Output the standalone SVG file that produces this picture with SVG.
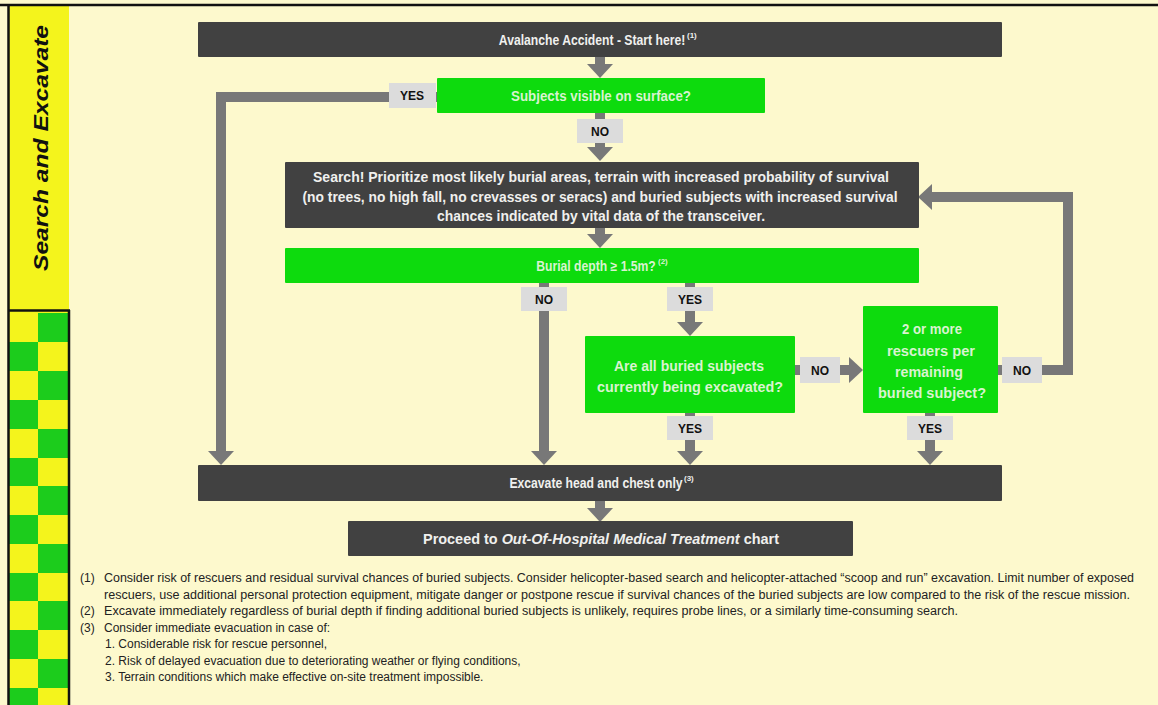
<svg xmlns="http://www.w3.org/2000/svg" width="1158" height="705" viewBox="0 0 1158 705">
<style>
.dark{fill:#414141}
.green{fill:#0ddb0d}
.lbl{fill:#dcdcdc}
.wt{font-family:"Liberation Sans Narrow","Liberation Sans",Arial,sans-serif;font-weight:bold;font-size:14px;fill:#f0f0ee;text-anchor:middle}
.gt{font-family:"Liberation Sans Narrow","Liberation Sans",Arial,sans-serif;font-weight:bold;font-size:14px;fill:#d9f3d0;text-anchor:middle}
.lt{font-family:"Liberation Sans",Arial,sans-serif;font-weight:bold;font-size:12px;fill:#111;text-anchor:middle}
.fn{font-family:"Liberation Sans Narrow","Liberation Sans",Arial,sans-serif;font-size:12px;fill:#222}
.conn{fill:none;stroke:#787878;stroke-width:10;stroke-linejoin:miter}
.sup{font-family:"Liberation Sans",Arial,sans-serif;font-weight:bold;font-size:8px;text-anchor:start}
</style>
<defs>
<marker id="ah" markerUnits="userSpaceOnUse" markerWidth="14" markerHeight="26" viewBox="0 -13 14 26" refX="0" refY="0" orient="auto">
<path d="M0,-13 L14,0 L0,13 z" fill="#787878"/>
</marker>
</defs>
<rect x="0" y="0" width="1158" height="705" fill="#fdf9cd"/>
<g id="sidebar">
<rect x="9" y="6" width="60" height="304" fill="#f4f41c"/>
<g id="checker">
<rect x="9" y="311" width="60" height="394" fill="#f4f41c"/>
<g fill="#1ccc1c">
<rect x="38" y="313" width="30" height="29"/>
<rect x="9" y="342" width="29" height="29"/>
<rect x="38" y="371" width="30" height="29"/>
<rect x="9" y="400" width="29" height="29"/>
<rect x="38" y="429" width="30" height="29"/>
<rect x="9" y="458" width="29" height="28"/>
<rect x="38" y="486" width="30" height="29"/>
<rect x="9" y="515" width="29" height="29"/>
<rect x="38" y="544" width="30" height="29"/>
<rect x="9" y="573" width="29" height="28"/>
<rect x="38" y="601" width="30" height="29"/>
<rect x="9" y="630" width="29" height="29"/>
<rect x="38" y="659" width="30" height="29"/>
<rect x="9" y="688" width="29" height="17"/>
</g>
</g>
<path d="M0,5 H1158 M8.5,5 V705 M8,310.5 H70 M69,310 V705" stroke="#111" stroke-width="2.5" fill="none"/>
<text transform="translate(48,148) rotate(-90)" text-anchor="middle" font-family="'Liberation Sans',Arial,sans-serif" font-weight="bold" font-style="italic" font-size="21" fill="#111" textLength="246" lengthAdjust="spacingAndGlyphs">Search and Excavate</text>
</g>
<g id="connectors">
<path class="conn" d="M600,57 V64" marker-end="url(#ah)"/>
<path class="conn" d="M440,97 H221 V451" marker-end="url(#ah)"/>
<path class="conn" d="M600,113 V147" marker-end="url(#ah)"/>
<path class="conn" d="M600,228 V234" marker-end="url(#ah)"/>
<path class="conn" d="M544,283 V451" marker-end="url(#ah)"/>
<path class="conn" d="M690,283 V322" marker-end="url(#ah)"/>
<path class="conn" d="M795,370 H849" marker-end="url(#ah)"/>
<path class="conn" d="M998,370 H1068 V197 H932" marker-end="url(#ah)"/>
<path class="conn" d="M690,412 V451" marker-end="url(#ah)"/>
<path class="conn" d="M930,412 V451" marker-end="url(#ah)"/>
<path class="conn" d="M600,501 V508" marker-end="url(#ah)"/>
</g>
<g id="n-start">
<rect class="dark" x="198" y="22" width="804" height="35" rx="1"/>
<text class="wt" transform="matrix(0.87 0 0 1 592 45)">Avalanche Accident - Start here!</text>
<text class="sup" x="687" y="38" fill="#f0f0ee">(1)</text>
</g>
<g id="n-visible">
<rect class="green" x="437" y="78" width="328" height="35" rx="1"/>
<text class="gt" x="601" y="101" textLength="180" lengthAdjust="spacingAndGlyphs">Subjects visible on surface?</text>
</g>
<g id="n-search">
<rect class="dark" x="285" y="162" width="634" height="66" rx="1"/>
<text class="wt" x="601" y="182" textLength="576" lengthAdjust="spacingAndGlyphs">Search! Prioritize most likely burial areas, terrain with increased probability of survival</text>
<text class="wt" x="600" y="202" textLength="595" lengthAdjust="spacingAndGlyphs">(no trees, no high fall, no crevasses or seracs) and buried subjects with increased survival</text>
<text class="wt" x="601" y="221" textLength="328" lengthAdjust="spacingAndGlyphs">chances indicated by vital data of the transceiver.</text>
</g>
<g id="n-depth">
<rect class="green" x="285" y="248" width="634" height="35" rx="1"/>
<text class="gt" transform="matrix(0.87 0 0 1 596 271)">Burial depth ≥ 1.5m?</text>
<text class="sup" x="658" y="264" fill="#d9f3d0">(2)</text>
</g>
<g id="n-excavating">
<rect class="green" x="585" y="336" width="210" height="77" rx="1"/>
<text class="gt" x="689" y="371" textLength="150" lengthAdjust="spacingAndGlyphs">Are all buried subjects</text>
<text class="gt" x="690" y="392" textLength="186" lengthAdjust="spacingAndGlyphs">currently being excavated?</text>
</g>
<g id="n-rescuers">
<rect class="green" x="863" y="306" width="135" height="107" rx="1"/>
<text class="gt" x="932" y="334" textLength="60" lengthAdjust="spacingAndGlyphs">2 or more</text>
<text class="gt" x="931" y="356" textLength="88" lengthAdjust="spacingAndGlyphs">rescuers per</text>
<text class="gt" x="929" y="377" textLength="68" lengthAdjust="spacingAndGlyphs">remaining</text>
<text class="gt" x="932" y="398" textLength="108" lengthAdjust="spacingAndGlyphs">buried subject?</text>
</g>
<g id="n-head">
<rect class="dark" x="198" y="465" width="804" height="36" rx="1"/>
<text class="wt" transform="matrix(0.87 0 0 1 596 488)">Excavate head and chest only</text>
<text class="sup" x="684" y="481" fill="#f0f0ee">(3)</text>
</g>
<g id="n-proceed">
<rect class="dark" x="348" y="521" width="505" height="35" rx="1"/>
<text class="wt" x="601" y="544" textLength="356" lengthAdjust="spacingAndGlyphs">Proceed to <tspan font-style="italic">Out-Of-Hospital Medical Treatment</tspan> chart</text>
</g>
<g id="labels">
<g id="l-yes1"><rect class="lbl" x="389" y="83" width="47" height="25"/><text class="lt" x="412" y="100">YES</text></g>
<g id="l-no1"><rect class="lbl" x="577" y="119" width="46" height="24"/><text class="lt" x="600" y="136">NO</text></g>
<g id="l-no2"><rect class="lbl" x="521" y="287" width="46" height="24"/><text class="lt" x="544" y="304">NO</text></g>
<g id="l-yes2"><rect class="lbl" x="667" y="287" width="46" height="24"/><text class="lt" x="690" y="304">YES</text></g>
<g id="l-no3"><rect class="lbl" x="800" y="357" width="40" height="26"/><text class="lt" x="820" y="375">NO</text></g>
<g id="l-no4"><rect class="lbl" x="1002" y="357" width="40" height="26"/><text class="lt" x="1022" y="375">NO</text></g>
<g id="l-yes3"><rect class="lbl" x="667" y="416" width="46" height="24"/><text class="lt" x="690" y="433">YES</text></g>
<g id="l-yes4"><rect class="lbl" x="907" y="416" width="46" height="24"/><text class="lt" x="930" y="433">YES</text></g>
</g>
<g id="footnotes">
<text class="fn" x="80" y="582">(1)</text>
<text class="fn" x="104" y="582" textLength="1030" lengthAdjust="spacingAndGlyphs">Consider risk of rescuers and residual survival chances of buried subjects. Consider helicopter-based search and helicopter-attached “scoop and run” excavation. Limit number of exposed</text>
<text class="fn" x="104" y="599" textLength="1026" lengthAdjust="spacingAndGlyphs">rescuers, use additional personal protection equipment, mitigate danger or postpone rescue if survival chances of the buried subjects are low compared to the risk of the rescue mission.</text>
<text class="fn" x="80" y="615">(2)</text>
<text class="fn" x="104" y="615" textLength="854" lengthAdjust="spacingAndGlyphs">Excavate immediately regardless of burial depth if finding additional buried subjects is unlikely, requires probe lines, or a similarly time-consuming search.</text>
<text class="fn" x="80" y="632">(3)</text>
<text class="fn" x="104" y="632">Consider immediate evacuation in case of:</text>
<text class="fn" x="105" y="648">1. Considerable risk for rescue personnel,</text>
<text class="fn" x="105" y="665">2. Risk of delayed evacuation due to deteriorating weather or flying conditions,</text>
<text class="fn" x="105" y="681">3. Terrain conditions which make effective on-site treatment impossible.</text>
</g>
</svg>
